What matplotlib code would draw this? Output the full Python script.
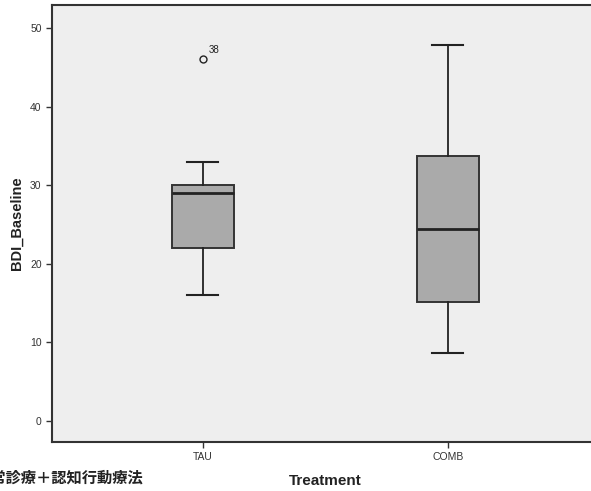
import numpy as np
import matplotlib.pyplot as plt

# ------------------------- data -------------------------
groups = ["TAU", "COMB"]
whislo = [16, 8.7]
q1 = [22, 15.2]
med = [29, 24.4]
q3 = [30, 33.7]
whishi = [33, 47.9]
outliers = [[46], []]
outlier_ids = [["38"], []]

y_ticks = [0, 10, 20, 30, 40, 50]

plt.rcParams['font.family'] = ['Liberation Sans', 'Noto Sans CJK JP', 'DejaVu Sans']

fig = plt.figure(figsize=(5.91, 4.91), dpi=100)
# axes frame: left spine x=52, top y=5, bottom y=442 (pixels); right side runs off the image
ax = fig.add_axes([52/591, 49/491, 1 - 52/591, (442 - 5)/491])
ax.set_facecolor('#eeeeee')

stats = []
for i, g in enumerate(groups):
    stats.append(dict(label=g, whislo=whislo[i], q1=q1[i], med=med[i],
                      q3=q3[i], whishi=whishi[i], fliers=outliers[i]))

pos = np.arange(1, len(groups) + 1)
ax.bxp(stats, positions=pos, widths=0.253, capwidths=0.126, patch_artist=True,
       boxprops=dict(facecolor='#aaaaaa', edgecolor='#333333', linewidth=1.4),
       medianprops=dict(color='#222222', linewidth=2),
       whiskerprops=dict(color='#222222', linewidth=1.3),
       capprops=dict(color='#222222', linewidth=1.5),
       flierprops=dict(marker='o', markerfacecolor='none', markeredgecolor='#222222',
                       markersize=5, markeredgewidth=1))

for i, (vals, ids) in enumerate(zip(outliers, outlier_ids)):
    for v, lab in zip(vals, ids):
        ax.annotate(lab, (pos[i], v), xytext=(4, 5), textcoords='offset points',
                    fontsize=7, color='#222222')

ax.set_xlim(0.384, 2.584)
ax.set_ylim(-2.67, 52.93)
ax.set_yticks(y_ticks)
ax.set_xticks(pos)
ax.set_xticklabels(groups, fontsize=7.5)
ax.tick_params(axis='y', labelsize=7.5, length=4, width=1, direction='out', colors='#333333')
ax.tick_params(axis='x', length=4, width=1, pad=3, direction='out', colors='#333333')

for s in ['left', 'bottom', 'top']:
    ax.spines[s].set_linewidth(1.5)
    ax.spines[s].set_color('#333333')
ax.spines['right'].set_visible(False)

ax.set_ylabel('BDI_Baseline', fontsize=10.5, fontweight='bold', color='#222222')
ax.yaxis.set_label_coords(-28 / 539, 0.5)
fig.text(325/591, 1 - 481/491, 'Treatment', fontsize=11, fontweight='bold',
         color='#222222', ha='center', va='center')
fig.text(143/591, 1 - 478/491, '通常診療＋認知行動療法', fontsize=11, fontweight='bold',
         color='#222222', ha='right', va='center')

fig.savefig('out.png', dpi=100)
